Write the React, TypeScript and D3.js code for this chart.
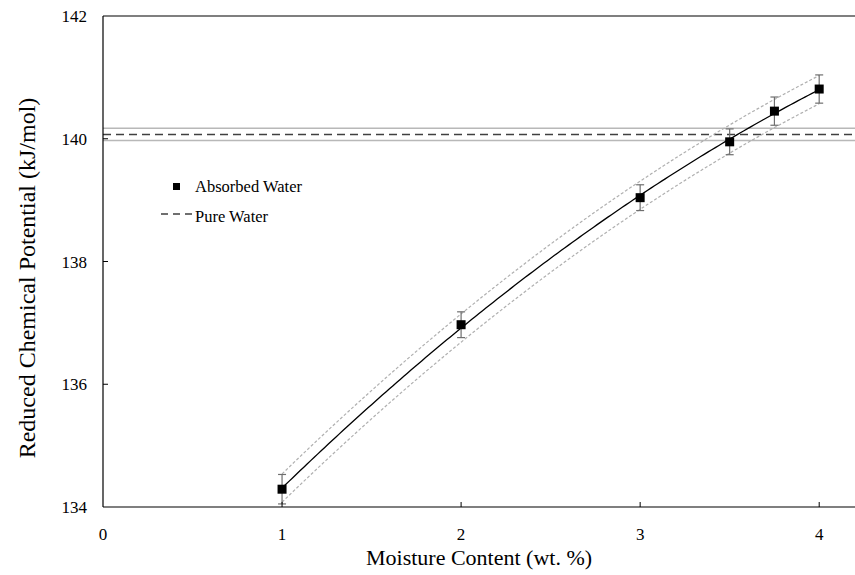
import React from "react";
import * as d3 from "d3";

// moisture content (wt. %) and reduced chemical potential (kJ/mol)
const moisture = [1, 2, 3, 3.5, 3.75, 4];
const potential = [134.29, 136.97, 139.04, 139.95, 140.45, 140.81];
const errors = [0.24, 0.21, 0.21, 0.21, 0.23, 0.23];

// pure water reference and its uncertainty
const pureWater = 140.07;
const pureWaterErr = 0.1;

const xTicks = [0, 1, 2, 3, 4];
const yTicks = [134, 136, 138, 140, 142];

// half width of the fit's confidence band (kJ/mol)
const bandHalf = 0.23;

const W = 855;
const H = 575;
const margin = { top: 16, right: 0, bottom: 68, left: 103 };

// quadratic least squares through the points
function quadFit(xs: number[], ys: number[]) {
  let s0 = 0, s1 = 0, s2 = 0, s3 = 0, s4 = 0, t0 = 0, t1 = 0, t2 = 0;
  xs.forEach((x, i) => {
    const y = ys[i];
    s0 += 1; s1 += x; s2 += x * x; s3 += x * x * x; s4 += x * x * x * x;
    t0 += y; t1 += x * y; t2 += x * x * y;
  });
  const m = [
    [s0, s1, s2, t0],
    [s1, s2, s3, t1],
    [s2, s3, s4, t2],
  ];
  for (let c = 0; c < 3; c++) {
    for (let r = c + 1; r < 3; r++) {
      const f = m[r][c] / m[c][c];
      for (let k = c; k < 4; k++) m[r][k] -= f * m[c][k];
    }
  }
  const b = [0, 0, 0];
  for (let r = 2; r >= 0; r--) {
    let s = m[r][3];
    for (let k = r + 1; k < 3; k++) s -= m[r][k] * b[k];
    b[r] = s / m[r][r];
  }
  return (x: number) => b[0] + b[1] * x + b[2] * x * x;
}

export default function App() {
  const x = d3.scaleLinear().domain([0, 4.2]).range([margin.left, W - margin.right]);
  const y = d3.scaleLinear().domain([134, 142]).range([H - margin.bottom, margin.top]);

  const fit = quadFit(moisture, potential);
  const xs = d3.range(1, 4.0001, 0.02);
  const fitPath = d3.line<number>().x((d) => x(d)).y((d) => y(fit(d)))(xs) || "";
  const upperPath = d3.line<number>().x((d) => x(d)).y((d) => y(fit(d) + bandHalf))(xs) || "";
  const lowerPath = d3.line<number>().x((d) => x(d)).y((d) => y(fit(d) - bandHalf))(xs) || "";

  const x0 = x(0);
  const x1 = W - margin.right;
  const yb = y(134);
  const yt = y(142);
  const font = "Liberation Serif, Times New Roman, serif";

  return (
    <svg width={W} height={H} style={{ position: "absolute", left: 0, top: 0, background: "#fff", fontFamily: font }}>
      {/* pure water band */}
      <line x1={x0} x2={x1} y1={y(pureWater + pureWaterErr)} y2={y(pureWater + pureWaterErr)}
        stroke="#b8b8b8" strokeWidth={1.5} />
      <line x1={x0} x2={x1} y1={y(pureWater - pureWaterErr)} y2={y(pureWater - pureWaterErr)}
        stroke="#b8b8b8" strokeWidth={1.5} />
      <line x1={x0} x2={x1} y1={y(pureWater)} y2={y(pureWater)}
        stroke="#404040" strokeWidth={1.5} strokeDasharray="8,5" />

      {/* confidence band and fit */}
      <path d={upperPath} fill="none" stroke="#b0b0b0" strokeWidth={1.2} strokeDasharray="3,2" />
      <path d={lowerPath} fill="none" stroke="#b0b0b0" strokeWidth={1.2} strokeDasharray="3,2" />
      <path d={fitPath} fill="none" stroke="#000" strokeWidth={1.3} />

      {/* error bars */}
      {moisture.map((m, i) => (
        <g key={"e" + i} stroke="#6e6e6e" strokeWidth={1.2}>
          <line x1={x(m)} x2={x(m)} y1={y(potential[i] - errors[i])} y2={y(potential[i] + errors[i])} />
          <line x1={x(m) - 4} x2={x(m) + 4} y1={y(potential[i] - errors[i])} y2={y(potential[i] - errors[i])} />
          <line x1={x(m) - 4} x2={x(m) + 4} y1={y(potential[i] + errors[i])} y2={y(potential[i] + errors[i])} />
        </g>
      ))}
      {moisture.map((m, i) => (
        <rect key={"p" + i} x={x(m) - 4.5} y={y(potential[i]) - 4.5} width={9} height={9} fill="#000" />
      ))}

      {/* axes */}
      <line x1={x0} x2={x1} y1={yt} y2={yt} stroke="#000" strokeWidth={1.2} />
      <line x1={x0} x2={x1} y1={yb} y2={yb} stroke="#000" strokeWidth={1.2} />
      <line x1={x0} x2={x0} y1={yt} y2={yb} stroke="#000" strokeWidth={1.2} />
      {xTicks.map((t) => (
        <g key={"xt" + t}>
          {t > 0 && <line x1={x(t)} x2={x(t)} y1={yb} y2={yb - 5} stroke="#000" />}
          <text x={x(t)} y={yb + 33} textAnchor="middle" fontSize={17}>{t}</text>
        </g>
      ))}
      {yTicks.map((t) => (
        <g key={"yt" + t}>
          {t > 134 && t < 142 && <line x1={x0} x2={x0 + 5} y1={y(t)} y2={y(t)} stroke="#000" />}
          <text x={x0 - 16} y={y(t) + 6} textAnchor="end" fontSize={17}>{t}</text>
        </g>
      ))}

      <text x={(x0 + x1) / 2} y={H - 10} textAnchor="middle" fontSize={22}>Moisture Content (wt. %)</text>
      <text transform={`translate(27,278) rotate(-90)`} textAnchor="middle" dy="0.35em" fontSize={24}>
        Reduced Chemical Potential (kJ/mol)
      </text>

      {/* legend */}
      <rect x={173} y={183} width={7} height={7} fill="#000" />
      <text x={195} y={192} fontSize={16.5}>Absorbed Water</text>
      <line x1={161} x2={193} y1={214} y2={214} stroke="#404040" strokeWidth={1.5} strokeDasharray="7,5" />
      <text x={195} y={221.5} fontSize={16.5}>Pure Water</text>
    </svg>
  );
}
